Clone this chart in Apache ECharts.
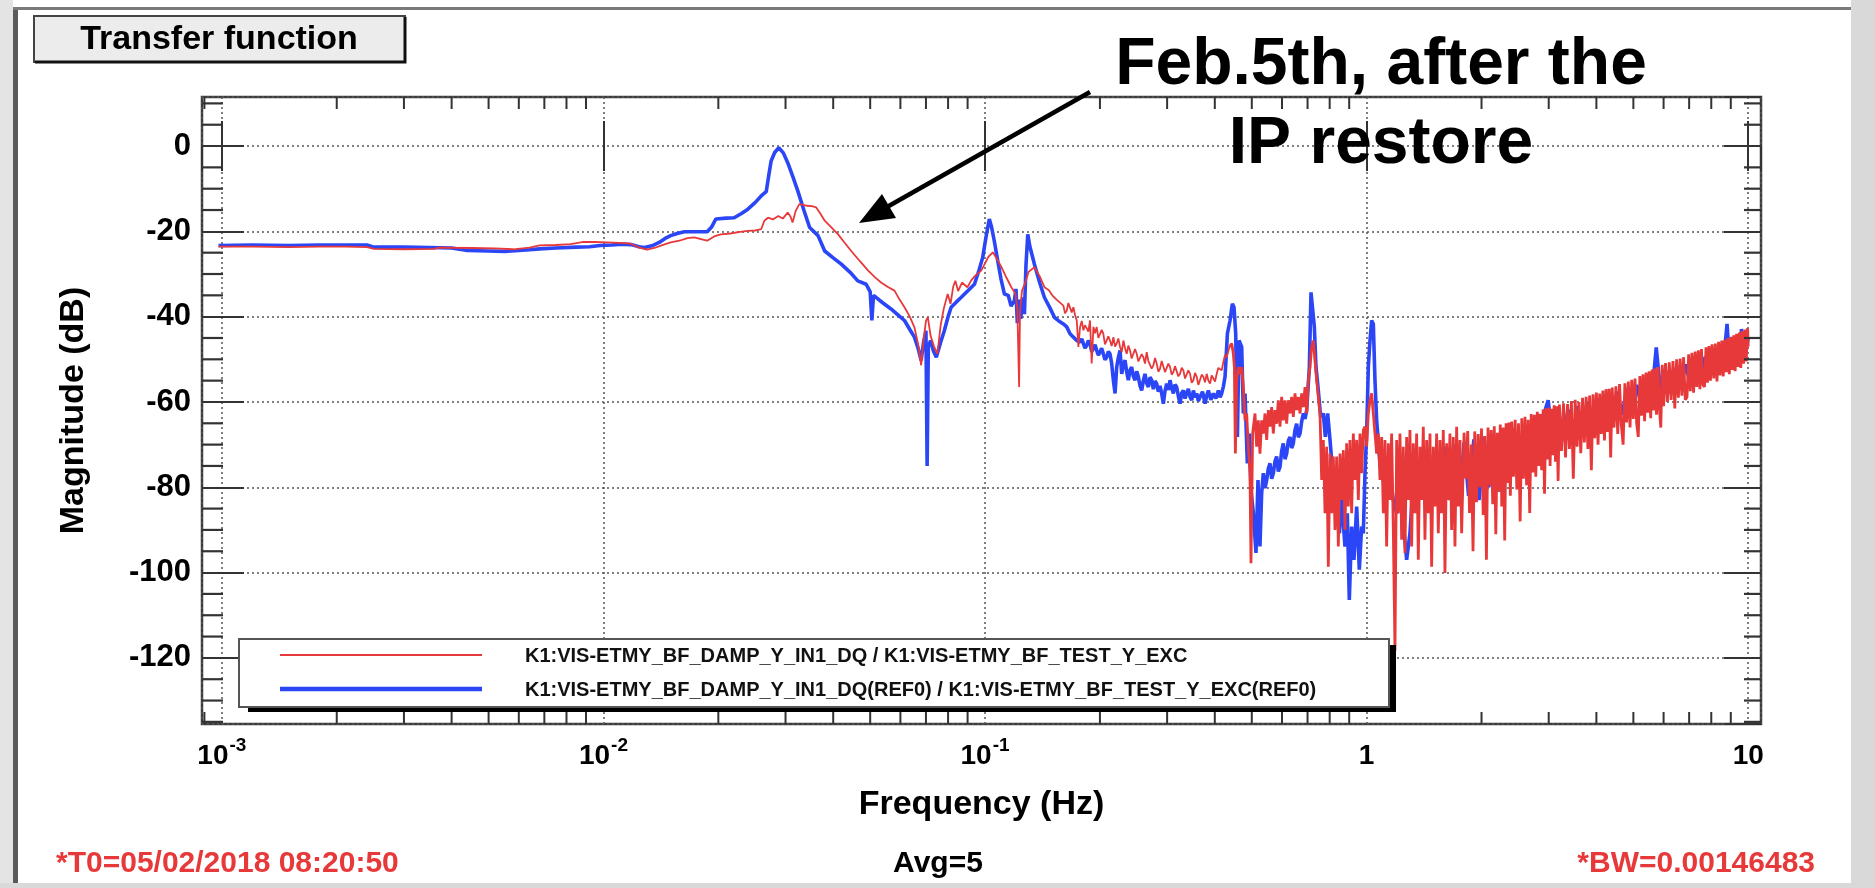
<!DOCTYPE html>
<html><head><meta charset="utf-8">
<script src="https://cdn.jsdelivr.net/npm/echarts@6/dist/echarts.min.js"></script>
<style>html,body{margin:0;padding:0;background:#fff;}#c{width:1875px;height:888px;}</style>
</head><body><div id="c"></div>
<script>
// ---------------- data (frequency Hz, magnitude dB) ----------------
const blueFlat = [[0.00098,-23.3],[0.0012,-23.2],[0.0015,-23.3],[0.0018,-23.2],[0.0021,-23.2],[0.0024,-23.2],[0.0025,-23.7],[0.0030,-23.7],[0.0035,-23.8],[0.0040,-23.9],[0.0044,-24.5],[0.0050,-24.6],[0.0055,-24.7],[0.0060,-24.5],[0.0064,-24.3],[0.0068,-24.1],[0.0075,-23.9],[0.0085,-23.7],[0.0092,-23.6],[0.0098,-23.3],[0.0105,-23.2],[0.0112,-23.0],[0.0118,-23.1],[0.0124,-23.6],[0.0128,-23.8],[0.0134,-23.4],[0.0140,-22.6]];
const bluePeak = [[0.0146,-21.5],[0.0150,-21.0],[0.0156,-20.5],[0.0163,-20.1],[0.0175,-20.1],[0.0187,-20.1],[0.0192,-19.0],[0.0197,-17.1],[0.0210,-16.9],[0.0220,-16.8],[0.0230,-15.8],[0.0239,-14.8],[0.0250,-13.2],[0.0259,-11.7],[0.0267,-10.7],[0.0271,-7.0],[0.0275,-3.5],[0.0281,-1.5],[0.0288,-0.4],[0.0296,-1.6],[0.0304,-3.9],[0.0313,-7.0],[0.0323,-10.5],[0.0335,-15.0],[0.0347,-19.1],[0.0365,-21.0],[0.0380,-24.6],[0.0400,-26.2],[0.0420,-27.7],[0.0443,-29.6],[0.0464,-31.6],[0.0488,-32.4],[0.0500,-34.2],[0.0505,-40.9],[0.0510,-35.0],[0.0518,-35.5],[0.0540,-36.8],[0.0567,-38.2],[0.0590,-39.5],[0.0615,-40.9],[0.0635,-43.0],[0.0653,-44.8],[0.0668,-47.5],[0.0680,-50.3],[0.0690,-46.0],[0.0700,-43.3],[0.0705,-75.0],[0.0710,-47.0],[0.0720,-45.6],[0.0732,-48.0],[0.0745,-49.5],[0.0765,-46.0],[0.0782,-43.3],[0.0800,-40.0],[0.0815,-37.8],[0.0840,-36.6],[0.0865,-35.5],[0.0900,-34.0],[0.0938,-32.4],[0.0965,-29.0],[0.0986,-26.1],[0.1005,-21.5],[0.1026,-17.1],[0.1040,-19.0],[0.1057,-22.2],[0.1080,-27.0],[0.1100,-31.0],[0.1124,-34.7],[0.1150,-35.0],[0.1170,-37.5],[0.1193,-36.3],[0.1205,-33.5],[0.1215,-41.5],[0.1225,-36.0],[0.1240,-40.5],[0.1255,-35.5],[0.1268,-39.4],[0.1280,-28.0],[0.1294,-20.7],[0.1310,-23.5],[0.1347,-27.7],[0.1390,-32.0],[0.1431,-35.5],[0.1480,-38.0],[0.1521,-40.2],[0.1560,-41.0],[0.1604,-41.7],[0.1637,-42.4],[0.1670,-44.0],[0.1704,-44.8],[0.1739,-45.6]];
const blueMid = [[0.1774,-46.0],[0.1792,-45.2],[0.1810,-46.3],[0.1828,-47.4],[0.1847,-46.7],[0.1865,-45.6],[0.1884,-46.3],[0.1903,-48.2],[0.1923,-47.5],[0.1942,-46.6],[0.1961,-47.9],[0.1981,-49.0],[0.2001,-48.3],[0.2021,-47.4],[0.2041,-48.7],[0.2062,-50.1],[0.2083,-49.5],[0.2104,-48.2],[0.2125,-48.7],[0.2147,-51.0],[0.2169,-54.9],[0.2191,-58.0],[0.2213,-51.8],[0.2235,-49.6],[0.2258,-47.9],[0.2281,-53.4],[0.2304,-51.2],[0.2327,-50.2],[0.2351,-53.0],[0.2374,-54.9],[0.2398,-52.6],[0.2422,-51.8],[0.2447,-54.0],[0.2472,-54.9],[0.2497,-52.8],[0.2522,-54.1],[0.2547,-56.2],[0.2573,-57.3],[0.2599,-55.0],[0.2625,-53.4],[0.2652,-55.6],[0.2679,-56.5],[0.2706,-54.2],[0.2733,-54.9],[0.2761,-57.0],[0.2789,-55.1],[0.2817,-55.7],[0.2845,-57.6],[0.2874,-56.2],[0.2903,-58.0],[0.2932,-60.4],[0.2962,-57.4],[0.2992,-55.7],[0.3022,-57.2],[0.3053,-54.9],[0.3084,-56.8],[0.3115,-58.0],[0.3146,-55.9],[0.3178,-56.5],[0.3210,-58.6],[0.3243,-60.4],[0.3276,-57.9],[0.3309,-57.3],[0.3342,-59.2],[0.3376,-58.0],[0.3410,-56.9],[0.3445,-58.8],[0.3480,-59.6],[0.3515,-57.3],[0.3550,-58.9],[0.3586,-58.0],[0.3622,-59.8],[0.3659,-58.8],[0.3715,-57.6],[0.3771,-60.4],[0.3810,-58.5],[0.3848,-57.3],[0.3906,-59.5],[0.3965,-58.0],[0.4026,-59.2],[0.4087,-57.3],[0.4128,-58.9],[0.4170,-58.0],[0.4212,-56.4],[0.4255,-54.1],[0.4316,-44.0],[0.4385,-40.9],[0.4447,-37.0],[0.4492,-37.8],[0.4538,-44.0],[0.4584,-68.2],[0.4630,-45.6],[0.4705,-47.1],[0.4752,-62.7],[0.4800,-58.0],[0.4868,-74.4],[0.4927,-67.4],[0.4976,-80.6],[0.5047,-86.1],[0.5129,-95.4],[0.5191,-78.3],[0.5253,-93.9],[0.5307,-81.4],[0.5361,-76.7],[0.5415,-80.2],[0.5470,-78.3],[0.5525,-75.6],[0.5581,-74.4],[0.5637,-78.0],[0.5694,-76.7],[0.5752,-73.9],[0.5810,-72.8],[0.5869,-76.3],[0.5928,-75.2],[0.5988,-71.5],[0.6048,-69.7],[0.6110,-73.4],[0.6171,-72.1],[0.6234,-69.1],[0.6297,-68.2],[0.6360,-70.8],[0.6424,-69.7],[0.6489,-66.6],[0.6556,-65.1],[0.6622,-68.3],[0.6689,-67.4],[0.6757,-64.6],[0.6825,-62.7],[0.6894,-64.0],[0.6964,-61.9],[0.7077,-51.8],[0.7148,-34.3],[0.7220,-34.7],[0.7293,-42.4],[0.7366,-51.8],[0.7456,-56.5],[0.7577,-63.5],[0.7700,-62.7],[0.7794,-68.2],[0.7904,-62.7],[0.8016,-68.9],[0.8179,-78.3],[0.8345,-86.1],[0.8481,-90.8],[0.8601,-83.0],[0.8775,-93.9],[0.8899,-86.1],[0.9006,-106.4],[0.9135,-89.2],[0.9263,-97.0],[0.9415,-84.5],[0.9567,-99.3],[0.9703,-89.2],[0.9801,-90.8],[0.9900,-76.7],[1.000,-67.4],[1.0101,-51.8],[1.0203,-45.6],[1.0306,-40.9],[1.0410,-41.7],[1.0515,-54.9],[1.0622,-64.3],[1.0837,-74.4],[1.1057,-78.3],[1.1282,-83.0],[1.1511,-77.0],[1.1745,-83.0],[1.1984,-86.1],[1.2227,-83.0],[1.2475,-88.4],[1.2729,-97.0],[1.2987,-90.8],[1.3251,-78.3],[1.3520,-82.2],[1.4075,-78.3]];
const blueHigh = [[1.42,-72.0],[1.46,-84.0],[1.50,-71.5],[1.55,-86.0],[1.60,-70.5],[1.65,-83.0],[1.70,-70.0],[1.75,-84.0],[1.80,-69.5],[1.85,-82.0],[1.91,-68.8],[1.97,-83.0],[2.03,-68.2],[2.09,-80.0],[2.15,-67.8],[2.22,-81.0],[2.29,-67.0],[2.36,-78.0],[2.43,-66.2],[2.50,-76.0],[2.58,-65.5],[2.66,-74.0],[2.74,-64.6],[2.82,-73.0],[2.90,-63.5],[2.99,-59.6],[3.08,-70.0],[3.17,-62.5],[3.27,-69.0],[3.37,-61.8],[3.47,-68.0],[3.57,-61.0],[3.68,-67.0],[3.79,-60.2],[3.90,-66.0],[4.02,-59.2],[4.14,-65.0],[4.27,-58.4],[4.40,-64.0],[4.53,-57.6],[4.67,-63.0],[4.81,-56.8],[4.95,-62.0],[5.10,-56.0],[5.25,-61.0],[5.41,-55.0],[5.57,-60.0],[5.74,-47.2],[5.91,-59.0],[6.09,-52.8],[6.27,-58.0],[6.46,-52.0],[6.65,-57.0],[6.85,-51.2],[7.06,-56.0],[7.27,-50.2],[7.49,-55.0],[7.71,-49.4],[7.94,-54.0],[8.18,-48.4],[8.43,-53.0],[8.68,-47.4],[8.80,-41.7],[8.94,-51.5],[9.21,-46.4],[9.49,-50.5],[9.60,-42.9],[9.77,-49.5],[10.0,-45.0]];

const redFlat = [[0.00098,-23.6],[0.0012,-23.6],[0.0015,-23.7],[0.0018,-23.6],[0.0021,-23.6],[0.0024,-23.7],[0.0025,-24.1],[0.0030,-24.2],[0.0036,-24.1],[0.0037,-23.8],[0.0045,-23.9],[0.0052,-24.0],[0.0058,-24.2],[0.0064,-23.8],[0.0068,-23.3],[0.0075,-23.2],[0.0082,-23.0],[0.0088,-22.5],[0.0095,-22.5],[0.0102,-22.6],[0.0110,-22.7],[0.0118,-22.9],[0.0124,-23.8],[0.0130,-24.3],[0.0136,-23.9],[0.0142,-23.3]];
const redPeak = [[0.0150,-22.6],[0.0158,-22.2],[0.0166,-21.6],[0.0173,-21.4],[0.0180,-21.8],[0.0187,-22.2],[0.0195,-21.2],[0.0203,-20.7],[0.0215,-20.5],[0.0228,-20.1],[0.0239,-19.9],[0.0250,-19.8],[0.0259,-19.5],[0.0264,-17.5],[0.0270,-16.8],[0.0278,-17.2],[0.0287,-16.4],[0.0295,-17.0],[0.0304,-15.6],[0.0309,-16.5],[0.0313,-17.9],[0.0319,-15.2],[0.0326,-13.6],[0.0334,-13.8],[0.0342,-14.0],[0.0352,-14.1],[0.0361,-14.4],[0.0370,-15.8],[0.0380,-17.5],[0.0395,-19.0],[0.0412,-20.7],[0.0428,-22.6],[0.0446,-24.6],[0.0470,-27.0],[0.0494,-29.2],[0.0515,-30.8],[0.0534,-32.0],[0.0555,-33.0],[0.0579,-33.9],[0.0597,-36.0],[0.0615,-37.8],[0.0635,-40.0],[0.0653,-42.5],[0.0668,-46.5],[0.0680,-51.4],[0.0690,-45.5],[0.0700,-41.0],[0.0708,-40.1],[0.0720,-44.5],[0.0735,-47.0],[0.0750,-48.7],[0.0765,-42.0],[0.0780,-38.0],[0.0798,-34.7],[0.0812,-37.0],[0.0825,-33.0],[0.0836,-31.6],[0.0850,-34.0],[0.0870,-32.0],[0.0899,-33.1],[0.0920,-31.5],[0.0940,-30.5],[0.0977,-29.2],[0.1000,-27.5],[0.1020,-26.0],[0.1048,-24.9],[0.1075,-26.5],[0.1104,-28.4],[0.1140,-31.0],[0.1172,-33.1],[0.1200,-34.5],[0.1215,-38.0],[0.1228,-56.5],[0.1235,-38.5],[0.1250,-33.9],[0.1275,-32.0],[0.1300,-29.5],[0.1347,-28.4],[0.1390,-30.5],[0.1431,-33.1],[0.1470,-33.8],[0.1500,-35.0],[0.1540,-36.0]];
const redMid = [[0.1604,-37.4],[0.1620,-39.2],[0.1637,-38.6],[0.1653,-36.8],[0.1670,-37.0],[0.1687,-39.0],[0.1704,-37.8],[0.1721,-39.6],[0.1739,-40.9],[0.1756,-47.1],[0.1774,-42.4],[0.1792,-41.0],[0.1810,-43.2],[0.1828,-42.0],[0.1847,-41.7],[0.1865,-43.5],[0.1884,-40.9],[0.1903,-51.0],[0.1923,-42.4],[0.1942,-43.9],[0.1961,-42.4],[0.1981,-45.0],[0.2001,-44.8],[0.2021,-43.1],[0.2041,-44.0],[0.2062,-46.5],[0.2083,-46.3],[0.2104,-44.6],[0.2125,-45.6],[0.2147,-46.9],[0.2169,-44.8],[0.2191,-47.0],[0.2213,-46.3],[0.2235,-45.1],[0.2258,-47.1],[0.2281,-48.3],[0.2304,-45.6],[0.2327,-47.4],[0.2351,-48.7],[0.2374,-46.8],[0.2398,-47.9],[0.2422,-49.8],[0.2447,-49.5],[0.2472,-47.6],[0.2497,-48.7],[0.2522,-50.5],[0.2547,-50.6],[0.2573,-48.8],[0.2599,-49.5],[0.2625,-51.0],[0.2652,-48.3],[0.2679,-50.4],[0.2706,-50.2],[0.2733,-52.2],[0.2761,-51.4],[0.2789,-49.7],[0.2817,-51.0],[0.2845,-52.9],[0.2874,-52.2],[0.2903,-50.4],[0.2932,-50.6],[0.2962,-53.0],[0.2992,-52.6],[0.3022,-51.0],[0.3053,-51.8],[0.3084,-53.6],[0.3115,-53.0],[0.3146,-51.6],[0.3178,-51.4],[0.3210,-54.0],[0.3243,-53.4],[0.3276,-52.0],[0.3309,-52.6],[0.3342,-54.5],[0.3376,-54.1],[0.3410,-52.6],[0.3445,-53.4],[0.3480,-55.5],[0.3515,-54.9],[0.3550,-53.2],[0.3586,-54.1],[0.3622,-56.0],[0.3659,-55.7],[0.3696,-53.6],[0.3733,-54.1],[0.3771,-55.4],[0.3809,-53.4],[0.3848,-55.0],[0.3887,-55.7],[0.3926,-53.8],[0.3965,-54.1],[0.4006,-55.2],[0.4046,-53.4],[0.4087,-52.0],[0.4128,-51.8],[0.4170,-52.6],[0.4212,-50.6],[0.4255,-49.0],[0.4298,-49.5],[0.4368,-47.1]];
const redBand = [[0.4368,-47.1],[0.4429,-46.3],[0.4474,-48.7],[0.4501,-51.8],[0.4529,-72.1],[0.4565,-54.9],[0.4611,-51.8],[0.4657,-53.4],[0.4705,-51.8],[0.4752,-56.5],[0.4800,-64.3],[0.4848,-62.7],[0.4897,-70.5],[0.4946,-76.7],[0.4976,-97.8],[0.5026,-67.4],[0.5098,-62.7],[0.5149,-70.5],[0.5201,-64.3],[0.5253,-72.1],[0.5307,-64.3],[0.5361,-67.4],[0.5415,-62.7],[0.5470,-68.9],[0.5525,-61.9],[0.5581,-65.8],[0.5637,-61.2],[0.5694,-67.4],[0.5752,-61.9],[0.5810,-65.1],[0.5869,-59.6],[0.5928,-65.8],[0.5988,-58.8],[0.6048,-64.3],[0.6110,-59.6],[0.6171,-65.1],[0.6234,-59.6],[0.6297,-62.7],[0.6360,-58.8],[0.6424,-63.5],[0.6489,-58.0],[0.6556,-61.9],[0.6622,-58.8],[0.6689,-62.7],[0.6757,-58.0],[0.6825,-61.2],[0.6894,-56.5],[0.6964,-62.7],[0.7034,-54.9],[0.7105,-51.8],[0.7177,-47.1],[0.7249,-45.6],[0.7322,-50.2],[0.7396,-54.9],[0.7471,-58.8],[0.7547,-62.7],[0.7623,-78.3],[0.7700,-68.9],[0.7778,-86.1],[0.7856,-70.5],[0.7935,-98.6],[0.8016,-72.1],[0.8097,-86.1],[0.8179,-72.8],[0.8261,-90.0],[0.8345,-72.8],[0.8429,-93.9],[0.8515,-72.1],[0.8601,-83.0],[0.8688,-71.3],[0.8775,-90.0],[0.8863,-69.7],[0.8953,-84.5],[0.9043,-68.9],[0.9135,-86.1],[0.9227,-67.4],[0.9320,-78.3],[0.9415,-68.9],[0.9510,-83.0],[0.9606,-67.4],[0.9703,-76.7],[0.9801,-66.6],
[0.9900,-65.8],[1.000,-70.5],[1.0101,-62.7],[1.0203,-59.6],[1.0306,-58.0],[1.0410,-62.7],[1.0515,-67.4],[1.0622,-72.1],[1.0729,-67.4],[1.0837,-78.3],[1.0947,-68.2],[1.1057,-86.1],[1.1169,-68.9],[1.1282,-93.9],[1.1396,-69.7],[1.1511,-83.0],[1.1627,-67.4],[1.1745,-90.0],[1.1864,-118.4],[1.1984,-68.9],[1.2105,-86.1],[1.2227,-67.4],[1.2351,-92.3],[1.2475,-70.5],[1.2601,-95.4],[1.2729,-68.2],[1.2857,-83.0],[1.2987,-66.6],[1.3119,-93.9],[1.3251,-69.7],[1.3385,-86.1],[1.3520,-67.4],[1.3657,-97.0],[1.3795,-70.5],[1.3934,-83.0],[1.4075,-65.8],[1.4217,-92.3],[1.4361,-68.9],[1.4506,-86.1],[1.4654,-67.4],[1.4802,-98.6],[1.4951,-70.5],[1.5102,-84.5],[1.5255,-67.4],[1.5409,-90.8],[1.5565,-68.9],[1.5722,-86.1],[1.5881,-66.6],[1.6041,-100.1],[1.6203,-69.7],[1.6367,-83.0],[1.6532,-67.4],[1.6699,-90.0],[1.6868,-68.2],[1.7038,-93.9],[1.7211,-65.8],[1.7385,-84.5],[1.7560,-68.9],[1.7738,-90.8]];
const redHigh = [[1.80,-67.2],[1.82,-78.0],[1.84,-66.8],[1.86,-86.0],[1.88,-70.0],[1.90,-95.0],[1.92,-66.9],[1.94,-83.5],[1.96,-67.5],[1.98,-80.0],[2.00,-66.2],[2.02,-86.5],[2.04,-68.0],[2.06,-97.0],[2.08,-66.0],[2.10,-79.5],[2.12,-66.6],[2.14,-84.0],[2.16,-65.7],[2.18,-91.0],[2.20,-67.2],[2.22,-81.0],[2.24,-65.3],[2.26,-84.5],[2.28,-66.0],[2.30,-92.5],[2.32,-65.0],[2.34,-79.0],[2.36,-64.8],[2.38,-82.0],[2.40,-64.6],
[2.425,-77.5],[2.45,-64.2],[2.475,-80.5],[2.50,-65.0],[2.525,-88.0],[2.55,-63.8],[2.575,-78.0],[2.60,-63.5],[2.625,-79.5],[2.65,-64.2],[2.675,-86.0],[2.70,-62.8],[2.725,-76.5],[2.75,-63.0],[2.775,-77.5],[2.80,-62.3],[2.825,-75.0],[2.85,-62.8],[2.875,-76.0],[2.90,-61.8],[2.925,-81.5],[2.95,-61.5],[2.975,-73.5],[3.00,-61.3],[3.025,-75.0],[3.05,-61.6],[3.075,-72.5],[3.10,-60.8],[3.125,-74.0],[3.15,-61.0],[3.175,-78.5],[3.20,-60.6],
[3.24,-71.5],[3.28,-60.3],[3.32,-73.0],[3.36,-60.5],[3.40,-71.0],[3.44,-59.8],[3.48,-78.0],[3.52,-59.5],[3.56,-70.5],[3.60,-60.0],[3.64,-72.0],[3.68,-59.0],[3.72,-69.5],[3.76,-58.8],[3.80,-71.0],[3.84,-58.5],[3.88,-76.0],[3.92,-58.2],[3.96,-68.5],[4.00,-57.8],[4.04,-70.0],[4.08,-58.0],[4.12,-67.5],[4.16,-57.3],[4.20,-69.0],[4.24,-57.0],[4.28,-67.0],[4.32,-56.9],[4.36,-73.0],[4.40,-56.6],
[4.45,-66.0],[4.50,-56.3],[4.55,-67.5],[4.60,-55.8],[4.65,-65.5],[4.70,-70.0],[4.75,-55.6],[4.80,-64.8],[4.85,-55.2],[4.90,-66.0],[4.95,-54.8],[5.00,-64.0],[5.05,-54.5],[5.10,-65.0],[5.15,-68.2],[5.20,-53.9],[5.25,-63.2],[5.30,-53.5],[5.35,-64.5],[5.40,-53.1],[5.45,-62.5],[5.50,-52.8],[5.55,-63.8],[5.60,-52.4],[5.65,-62.0],[5.70,-52.1],[5.75,-63.0],[5.80,-51.8],[5.85,-61.5],[5.90,-66.0],[5.95,-51.3],[6.00,-61.0],
[6.07,-50.9],[6.14,-60.0],[6.21,-50.7],[6.28,-59.5],[6.35,-50.4],[6.42,-61.5],[6.49,-50.0],[6.56,-59.0],[6.63,-49.8],[6.70,-58.5],[6.77,-49.5],[6.84,-59.5],[6.91,-58.9],[6.98,-48.8],[7.05,-57.5],[7.12,-48.5],[7.19,-57.8],[7.26,-48.2],[7.33,-56.5],[7.40,-47.9],[7.47,-57.0],[7.54,-47.6],[7.61,-56.0],[7.68,-56.5],[7.75,-47.2],[7.82,-55.5],[7.89,-46.9],[7.96,-55.0],
[8.04,-46.5],[8.12,-54.5],[8.20,-46.3],[8.28,-55.2],[8.36,-45.9],[8.44,-53.8],[8.52,-45.6],[8.60,-54.0],[8.68,-45.4],[8.76,-53.0],[8.84,-45.0],[8.92,-53.5],[9.00,-44.7],[9.08,-52.5],[9.16,-44.4],[9.24,-52.8],[9.32,-44.0],[9.40,-51.8],[9.48,-43.7],[9.56,-52.0],[9.64,-43.4],[9.72,-51.0],[9.80,-43.0],[9.88,-50.5],[9.96,-42.7],[10.0,-47.0]];

// axis ticks / labels
const xTickValues = [0.001, 0.01, 0.1, 1, 10];
const xTickLabels = [['10','-3'],['10','-2'],['10','-1'],['1',''],['10','']];
const xMinorTicks = [0.0009,0.002,0.003,0.004,0.005,0.006,0.007,0.008,0.009,0.02,0.03,0.04,0.05,0.06,0.07,0.08,0.09,0.2,0.3,0.4,0.5,0.6,0.7,0.8,0.9,2,3,4,5,6,7,8,9];
const yMinorTicks = [-135,-130,-125,-115,-110,-105,-95,-90,-85,-75,-70,-65,-55,-50,-45,-35,-30,-25,-15,-10,-5,5,10];
const seriesNames = ['K1:VIS-ETMY_BF_DAMP_Y_IN1_DQ / K1:VIS-ETMY_BF_TEST_Y_EXC', 'K1:VIS-ETMY_BF_DAMP_Y_IN1_DQ(REF0) / K1:VIS-ETMY_BF_TEST_Y_EXC(REF0)'];
const xMin = 0.000887, xMax = 10.8, yMin = -135.5, yMax = 11.5;

const blueData = blueFlat.concat(bluePeak, blueMid, blueHigh);
const redSmooth = redFlat.concat(redPeak, redMid);
const redNoisy = redBand.concat(redHigh);

const FONT = "'Liberation Sans', Arial, Helvetica, sans-serif";
const RED = '#e8393a', BLUE = '#2b46f6', TICK = '#333';

function xLabel(v) {
  for (let i = 0; i < xTickValues.length; i++) {
    if (Math.abs(Math.log10(v) - Math.log10(xTickValues[i])) < 1e-6) {
      const l = xTickLabels[i];
      return l[1] ? '{b|' + l[0] + '}{s|' + l[1] + '}' : '{b|' + l[0] + '}';
    }
  }
  return '';
}

function txt(text, x, y, size, color, align, z) {
  return { type: 'text', x: x, y: y, z: z || 50,
    style: { text: text, fill: color, font: 'bold ' + size + 'px ' + FONT,
      align: align, textAlign: align, verticalAlign: 'middle', textVerticalAlign: 'middle' } };
}

const chart = echarts.init(document.getElementById('c'));
chart.setOption({
  animation: false,
  backgroundColor: '#ffffff',
  grid: { left: 202, right: 114, top: 97, bottom: 164, show: true, borderColor: '#3c3c3c', borderWidth: 2.5, backgroundColor: 'transparent' },
  xAxis: [{
    type: 'log', logBase: 10, min: xMin, max: xMax, position: 'bottom',
    axisLine: { show: false },
    axisTick: { inside: true, length: 25, lineStyle: { color: TICK, width: 2 } },
    axisLabel: { formatter: xLabel, margin: 12, showMinLabel: false, showMaxLabel: false,
      rich: { b: { fontSize: 28, fontWeight: 'bold', fontFamily: FONT, color: '#000', lineHeight: 41, verticalAlign: 'middle' },
              s: { fontSize: 19, fontWeight: 'bold', fontFamily: FONT, color: '#000', padding: [0, 0, 22, 1], verticalAlign: 'middle' } } },
    splitLine: { show: true, lineStyle: { color: '#555', type: [2, 3], width: 1.5 } },
    name: 'Frequency (Hz)', nameLocation: 'middle', nameGap: 64,
    nameTextStyle: { fontSize: 34, fontWeight: 'bold', fontFamily: FONT, color: '#000' }
  }, {
    type: 'log', logBase: 10, min: xMin, max: xMax, position: 'top',
    axisLine: { show: false },
    axisTick: { inside: true, length: 25, lineStyle: { color: TICK, width: 2 } },
    axisLabel: { show: false }, splitLine: { show: false }
  }],
  yAxis: [{
    type: 'value', min: yMin, max: yMax, minInterval: 20, maxInterval: 20, splitNumber: 7, position: 'left',
    axisLine: { show: false },
    axisTick: { inside: true, length: 42, lineStyle: { color: TICK, width: 2.2 } },
    axisLabel: { margin: 11, showMinLabel: false, showMaxLabel: false, fontSize: 31, fontWeight: 'bold', fontFamily: FONT, color: '#000' },
    splitLine: { show: true, lineStyle: { color: '#555', type: [2, 3], width: 1.5 } },
    name: 'Magnitude (dB)', nameLocation: 'middle', nameGap: 111,
    nameTextStyle: { fontSize: 34, fontWeight: 'bold', fontFamily: FONT, color: '#000' }
  }, {
    type: 'value', min: yMin, max: yMax, minInterval: 20, maxInterval: 20, splitNumber: 7, position: 'right',
    axisLine: { show: false },
    axisTick: { inside: true, length: 37, lineStyle: { color: TICK, width: 2.2 } },
    axisLabel: { show: false }, splitLine: { show: false }
  }],
  series: [
    { name: seriesNames[1], type: 'line', data: blueData, showSymbol: false, symbol: 'none', z: 2,
      lineStyle: { color: BLUE, width: 3.6 }, itemStyle: { color: BLUE } },
    { name: seriesNames[0], type: 'line', data: redSmooth, showSymbol: false, symbol: 'none', z: 3,
      lineStyle: { color: RED, width: 1.8 }, itemStyle: { color: RED } },
    { name: seriesNames[0] + ' ', type: 'line', data: redNoisy, showSymbol: false, symbol: 'none', z: 3,
      lineStyle: { color: RED, width: 2.8 }, itemStyle: { color: RED } },
    { type: 'custom', z: 5, data: xMinorTicks.map(v => [v, yMin]),
      renderItem: function (params, api) {
        const x = api.coord([api.value(0), yMin])[0];
        const yb = api.coord([api.value(0), yMin])[1];
        const yt = api.coord([api.value(0), yMax])[1];
        const st = { stroke: TICK, lineWidth: 2 };
        return { type: 'group', children: [
          { type: 'line', shape: { x1: x, y1: yb, x2: x, y2: yb - 12 }, style: st },
          { type: 'line', shape: { x1: x, y1: yt, x2: x, y2: yt + 12 }, style: st } ] };
      } },
    { type: 'custom', z: 5, data: yMinorTicks.map(v => [xMin, v]),
      renderItem: function (params, api) {
        const p1 = api.coord([xMin, api.value(1)]);
        const p2 = api.coord([xMax, api.value(1)]);
        const st = { stroke: TICK, lineWidth: 2.2 };
        return { type: 'group', children: [
          { type: 'line', shape: { x1: p1[0], y1: p1[1], x2: p1[0] + 21, y2: p1[1] }, style: st },
          { type: 'line', shape: { x1: p2[0], y1: p2[1], x2: p2[0] - 17, y2: p2[1] }, style: st } ] };
      } }
  ],
  graphic: { elements: [
    // window frame
    { type: 'rect', shape: { x: 0, y: 0, width: 13, height: 888 }, style: { fill: '#e4e4e4' }, z: 40 },
    { type: 'rect', shape: { x: 13, y: 7, width: 5, height: 876 }, style: { fill: '#5a5a5a' }, z: 40 },
    { type: 'rect', shape: { x: 13, y: 7, width: 1838, height: 3 }, style: { fill: '#7a7a7a' }, z: 40 },
    { type: 'rect', shape: { x: 1851, y: 0, width: 24, height: 888 }, style: { fill: '#d9d9d9' }, z: 40 },
    { type: 'rect', shape: { x: 0, y: 883, width: 1875, height: 5 }, style: { fill: '#d9d9d9' }, z: 40 },
    // title button
    { type: 'rect', shape: { x: 34, y: 16, width: 371, height: 46 }, style: { fill: '#ececec', stroke: '#444', lineWidth: 2 }, z: 40 },
    { type: 'polyline', shape: { points: [[35, 62], [405, 62], [405, 17]] }, style: { stroke: '#111', lineWidth: 3, fill: null }, z: 41 },
    txt('Transfer function', 219, 40, 34, '#000', 'center', 42),
    // annotation
    txt('Feb.5th, after the', 1381, 66, 66, '#000', 'center', 60),
    txt('IP restore', 1381, 145, 66, '#000', 'center', 60),
    { type: 'line', shape: { x1: 1090, y1: 92, x2: 887, y2: 207 }, style: { stroke: '#000', lineWidth: 4.5 }, z: 60 },
    { type: 'polygon', shape: { points: [[859, 223], [896, 218], [882, 194]] }, style: { fill: '#000' }, z: 60 },
    // legend
    { type: 'rect', shape: { x: 248, y: 645, width: 1148, height: 67 }, style: { fill: '#000' }, z: 70 },
    { type: 'rect', shape: { x: 239, y: 639, width: 1150, height: 68 }, style: { fill: '#fff', stroke: '#555', lineWidth: 2 }, z: 71 },
    { type: 'line', shape: { x1: 280, y1: 655, x2: 482, y2: 655 }, style: { stroke: RED, lineWidth: 2 }, z: 72 },
    { type: 'line', shape: { x1: 280, y1: 689, x2: 482, y2: 689 }, style: { stroke: BLUE, lineWidth: 4.5 }, z: 72 },
    txt(seriesNames[0], 525, 656, 20, '#111', 'left', 72),
    txt(seriesNames[1], 525, 690, 20, '#111', 'left', 72),
    // footer
    txt('*T0=05/02/2018 08:20:50', 56, 864, 30, RED, 'left', 50),
    txt('Avg=5', 938, 864, 30, '#000', 'center', 50),
    txt('*BW=0.00146483', 1815, 864, 30, RED, 'right', 50)
  ] }
});
</script></body></html>
